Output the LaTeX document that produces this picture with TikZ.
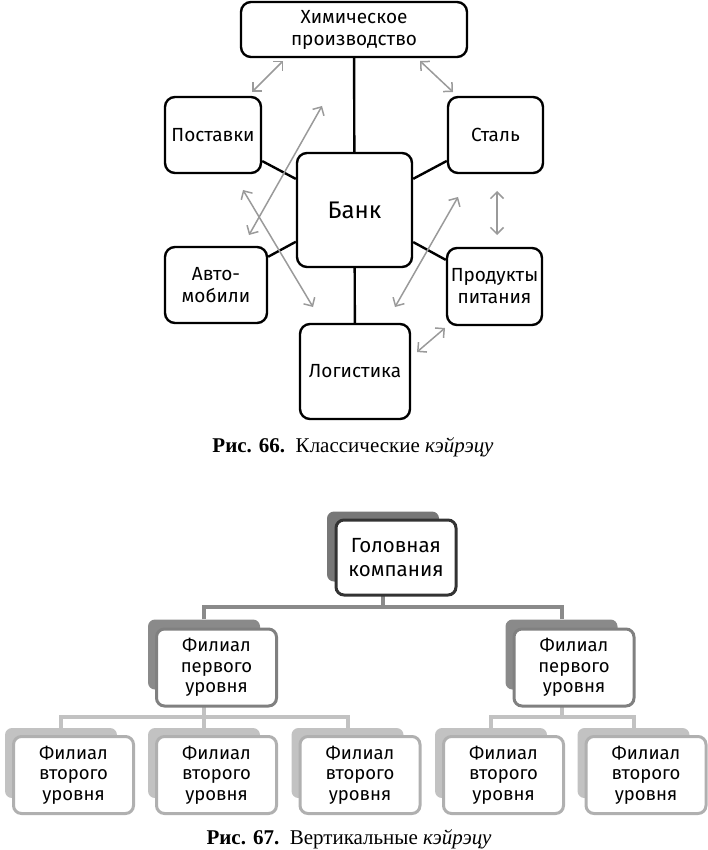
\documentclass[tikz,border=0pt]{standalone}
\usepackage{fontspec}
\setmainfont{Fira Sans}
\newfontfamily\capfont{Liberation Serif}
\usetikzlibrary{arrows.meta,backgrounds}
\definecolor{TieGray}{HTML}{9A9A9A}
\definecolor{HeadShade}{HTML}{777777}
\definecolor{HeadRim}{HTML}{333333}
\definecolor{MidShade}{HTML}{8A8A8A}
\definecolor{MidRim}{HTML}{808080}
\definecolor{LowShade}{HTML}{C2C2C2}
\definecolor{LowRim}{HTML}{B0B0B0}

\begin{document}
\begin{tikzpicture}[x=1pt,y=-1pt,
  firm/.style={draw=black, line width=2.4pt, rounded corners=10pt, fill=white,
    align=center, inner sep=0pt, font=\fontsize{19}{22}\selectfont},
  link/.style={line width=2.4pt},
  tie/.style={TieGray, line width=1.5pt,
    {Straight Barb[length=6.5pt,width=13pt]}-{Straight Barb[length=6.5pt,width=13pt]}},
  shade/.style={rounded corners=7pt, minimum width=112, minimum height=70, inner sep=0pt},
  branch/.style={line width=3pt, fill=white, rounded corners=8pt, minimum width=120,
    minimum height=77, inner sep=0pt, align=center, font=\fontsize{18.5}{20.5}\selectfont},
  caption/.style={anchor=base, font=\capfont\fontsize{21}{24}\selectfont}]
  \useasboundingbox (0,0) rectangle (707,850);

  % Рис. 66
  \node[firm, minimum width=226, minimum height=55] (chem) at (354,29.5) {Химическое\\производство};
  \node[firm, minimum width=96, minimum height=76] (post) at (213,135) {Поставки};
  \node[firm, minimum width=95, minimum height=76] (steel) at (495.5,135) {Сталь};
  \node[firm, minimum width=115, minimum height=114, font=\fontsize{24}{28}\selectfont] (bank) at (354.5,210) {Банк};
  \node[firm, minimum width=102, minimum height=76] (auto) at (216,285) {Авто-\\мобили};
  \node[firm, minimum width=95, minimum height=77] (food) at (494.5,286.5) {Продукты\\питания};
  \node[firm, minimum width=110, minimum height=95] (logi) at (355,371.5) {Логистика};

  \begin{scope}[on background layer]
    \draw[link] (chem) -- (bank);
    \draw[link] (bank) -- (logi);
    \draw[link] (post) -- (bank);
    \draw[link] (steel) -- (bank);
    \draw[link] (auto) -- (bank);
    \draw[link] (food) -- (bank);
  \end{scope}

  \coordinate (t1a) at (252,92);  \coordinate (t1b) at (283,61);
  \coordinate (t2a) at (420,61);  \coordinate (t2b) at (453,92);
  \coordinate (t3a) at (322,106); \coordinate (t3b) at (249,235);
  \coordinate (t4a) at (243,190); \coordinate (t4b) at (313,307);
  \coordinate (t5a) at (458,197); \coordinate (t5b) at (395,307);
  \coordinate (t6a) at (497,191); \coordinate (t6b) at (497,235);
  \coordinate (t7a) at (417,352); \coordinate (t7b) at (445,328);
  \foreach \t in {1,...,7}
    \draw[tie] (t\t a) -- (t\t b);

  \node[caption] (cap66) at (353,452) {\textbf{Рис. 66.}\hspace{0.5em}Классические \textit{кэйрэцу}};

  % Рис. 67
  \node[shade, fill=HeadShade] (hs) at (383,546.5) {};
  \node[branch, draw=HeadRim, minimum height=75, font=\fontsize{20.5}{24}\selectfont] (head) at (396,557.5) {Головная\\компания};

  \node[shade, fill=MidShade] (l1as) at (204,654.5) {};
  \node[branch, draw=MidRim] (l1a) at (216.5,667.5) {Филиал\\первого\\уровня};
  \node[shade, fill=MidShade] (l1bs) at (561.5,654.5) {};
  \node[branch, draw=MidRim] (l1b) at (574,667.5) {Филиал\\первого\\уровня};

  \foreach \x/\nm in {61/c1, 204/c2, 347.5/c3, 491/c4, 633.5/c5} {
    \node[shade, fill=LowShade] (\nm s) at (\x,763) {};
    \node[branch, draw=LowRim] (\nm) at (\x+12.5,775) {Филиал\\второго\\уровня};
  }

  \coordinate (bar1) at (0,607);
  \coordinate (bar2) at (0,717);
  \begin{scope}[on background layer]
    \draw[MidShade, line width=4pt] (hs.center) -- (hs |- bar1);
    \draw[MidShade, line width=4pt] (l1as.north) |- (hs |- bar1) -| (l1bs.north);
    \draw[LowShade, line width=4pt] (c1s.north) |- (l1as |- bar2) -| (c3s.north);
    \draw[LowShade, line width=4pt] (l1as.center) -- (c2s.north);
    \draw[LowShade, line width=4pt] (c4s.north) |- (l1bs |- bar2) -| (c5s.north);
    \draw[LowShade, line width=4pt] (l1bs.center) -- (l1bs |- bar2);
  \end{scope}

  \node[caption] (cap67) at (349,844) {\textbf{Рис. 67.}\hspace{0.5em}Вертикальные \textit{кэйрэцу}};
\end{tikzpicture}
\end{document}
